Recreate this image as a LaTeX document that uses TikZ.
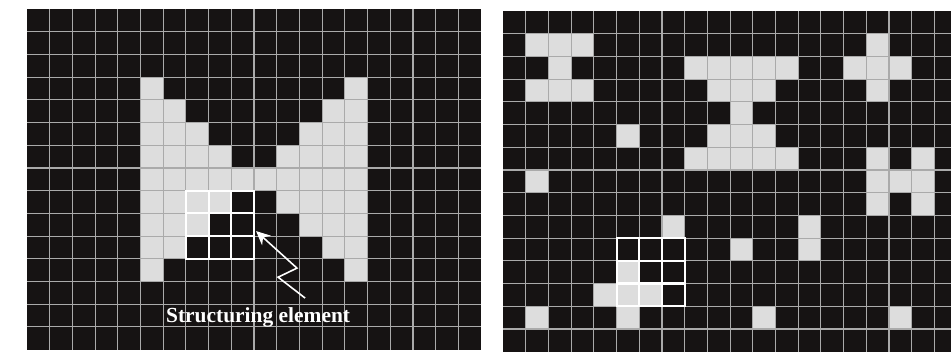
\documentclass[tikz,border=0pt]{standalone}
\usepackage{fontspec}
\setmainfont{Liberation Serif}
\usepackage{tikz}
\usetikzlibrary{arrows.meta}

\definecolor{pixdark}{RGB}{22,19,19}
\definecolor{pixlight}{RGB}{221,221,221}
\definecolor{gridline}{RGB}{170,170,170}

\begin{document}
\begin{tikzpicture}[x=0.8cm, y=0.8cm,
	lit/.style={fill=pixlight},
	gridrule/.style={gridline, line width=1.1pt},
	sebox/.style={white, line width=2.2pt},
	bolt/.style={white, line width=1.6pt, -{Stealth[length=14pt,width=13pt]}}]
	\useasboundingbox[fill=white] (-1.19,-0.5) rectangle (40.70,15.40);
	% \coordinate () at ();
	
	% before
	\fill[pixdark] (0,0) rectangle (20,15);
	\foreach \k in {0,...,4} {
		\fill[lit] (5+\k, 3+\k) rectangle (6+\k, 12-\k);
		\fill[lit] (14-\k, 3+\k) rectangle (15-\k, 12-\k);
	}
	\foreach \x in {1,...,19} \draw[gridrule] (\x,0) -- (\x,15);
	\foreach \y in {1,...,14} \draw[gridrule] (0,\y) -- (20,\y);
	\foreach \i in {7,8,9} {
		\foreach \j in {4,5,6} \draw[sebox] (\i,\j) rectangle (\i+1,\j+1);
	}
	
	\node[text=white, font=\bfseries\fontsize{21.5}{21.5}\selectfont] (selabel) at (10.18,1.43) {Structuring element};
	\coordinate (setip) at (10.09,5.22);
	\coordinate (boltA) at (12.25,2.27);
	\coordinate (boltB) at (11.06,3.19);
	\coordinate (boltC) at (11.89,3.59);
	\draw[bolt] (boltA) -- (boltB) -- (boltC) -- (setip);
	
	% after
	\begin{scope}[shift={(20.97,-0.09)}]
		\clip (0,0) rectangle (19.73,15);
		\fill[pixdark] (0,0) rectangle (20,15);
		\foreach \c/\r in {1/1,2/1,3/1,16/1,
			2/2,8/2,9/2,10/2,11/2,12/2,15/2,16/2,17/2,
			1/3,2/3,3/3,9/3,10/3,11/3,16/3,
			10/4,
			5/5,9/5,10/5,11/5,
			8/6,9/6,10/6,11/6,12/6,16/6,18/6,
			1/7,16/7,17/7,18/7,
			16/8,18/8,
			7/9,13/9,
			10/10,13/10,
			5/11,
			4/12,5/12,6/12,
			1/13,5/13,11/13,17/13}
			\fill[lit] (\c,14-\r) rectangle (\c+1,15-\r);
		\foreach \x in {1,...,19} \draw[gridrule] (\x,0) -- (\x,15);
		\foreach \y in {1,...,14} \draw[gridrule] (0,\y) -- (20,\y);
		\foreach \i in {5,6,7} {
			\foreach \j in {2,3,4} \draw[sebox] (\i,\j) rectangle (\i+1,\j+1);
		}
	\end{scope}
\end{tikzpicture}
\end{document}
